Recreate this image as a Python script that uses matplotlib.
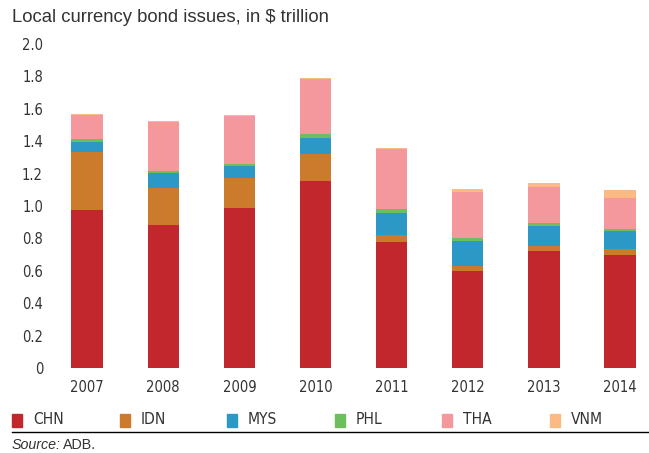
import matplotlib
matplotlib.use("Agg")
import matplotlib.pyplot as plt
from matplotlib.patches import Rectangle
from matplotlib import font_manager
import numpy as np

years = ["2007", "2008", "2009", "2010", "2011", "2012", "2013", "2014"]
countries = ["CHN", "IDN", "MYS", "PHL", "THA", "VNM"]

chn = [0.975, 0.883, 0.988, 1.154, 0.778, 0.599, 0.722, 0.698]
idn = [0.358, 0.228, 0.185, 0.167, 0.043, 0.031, 0.031, 0.037]
mys = [0.062, 0.093, 0.074, 0.099, 0.136, 0.154, 0.124, 0.111]
phl = [0.019, 0.012, 0.012, 0.024, 0.024, 0.018, 0.018, 0.012]
tha = [0.148, 0.302, 0.297, 0.340, 0.371, 0.284, 0.222, 0.191]
vnm = [0.006, 0.007, 0.006, 0.005, 0.006, 0.019, 0.025, 0.050]

colors = ["#C1272D", "#CC7A2C", "#2B98C6", "#6CBF5C", "#F5989D", "#FBBA84"]

# look for a condensed face for the ticks / legend
cond = [f for f in font_manager.fontManager.ttflist
        if "condensed" in str(f.stretch).lower() or "Narrow" in f.name or "Condensed" in f.name]
if cond:
    narrow = dict(family=cond[0].name, stretch=cond[0].stretch)
else:
    narrow = dict(family="Liberation Sans")
plt.rcParams["font.family"] = ["Liberation Sans", "DejaVu Sans"]

fig = plt.figure(figsize=(6.49, 4.53), dpi=100)
ax = fig.add_axes([50 / 649, 85 / 453, 599 / 649, 324 / 453])

x = np.arange(len(years))
bottom = np.zeros(len(years))
for name, vals, col in zip(countries, [chn, idn, mys, phl, tha, vnm], colors):
    ax.bar(x, vals, width=0.41, bottom=bottom, color=col, label=name)
    bottom += np.array(vals)

ax.set_xlim(-0.487, 7.38)
ax.set_ylim(0, 2.0)
ax.set_yticks(np.arange(0, 2.01, 0.2))
ax.set_yticklabels(["0"] + [f"{v:.1f}" for v in np.arange(0.2, 2.01, 0.2)])
ax.set_xticks(x)
ax.set_xticklabels(years)
for s in ax.spines.values():
    s.set_visible(False)
ax.tick_params(length=0, labelsize=10.5, colors="#333333", pad=9)
ax.tick_params(axis="y", pad=5)
for lab in ax.get_xticklabels() + ax.get_yticklabels():
    lab.set_family(narrow["family"])
    if "stretch" in narrow:
        lab.set_stretch(narrow["stretch"])

fig.text(12 / 649, 1 - 18 / 453, "Local currency bond issues, in $ trillion",
         fontsize=13.3, color="#333333", va="center", ha="left")

# legend row
for i, (name, col) in enumerate(zip(countries, colors)):
    x0 = 12 + i * 107.5
    fig.add_artist(Rectangle((x0 / 649, 1 - 427 / 453), 10 / 649, 13 / 453,
                             transform=fig.transFigure, color=col))
    fig.text((x0 + 21) / 649, 1 - 420 / 453, name, fontsize=11.2,
             color="#333333", va="center", ha="left", **narrow)

fig.add_artist(plt.Line2D([12 / 649, 1], [1 - 432 / 453] * 2,
                          transform=fig.transFigure, color="black", lw=1))

fig.text(12 / 649, 1 - 445 / 453, "Source:", fontsize=10.3, style="italic",
         color="#333333", va="center", ha="left")
fig.text(63 / 649, 1 - 445 / 453, "ADB.", fontsize=10.3,
         color="#333333", va="center", ha="left")

fig.savefig("out.png", dpi=100)
